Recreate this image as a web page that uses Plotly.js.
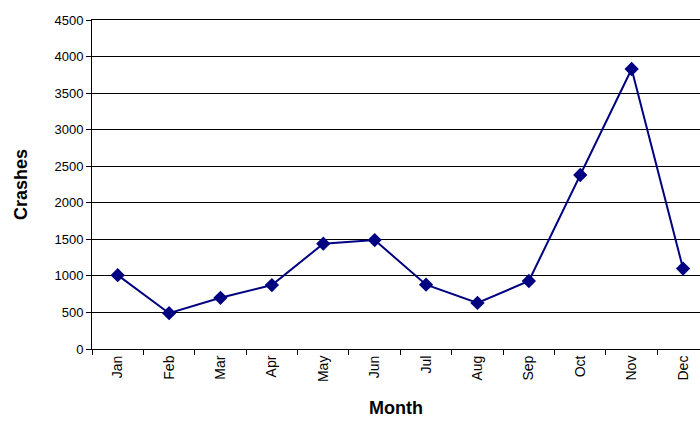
<!DOCTYPE html>
<html><head><script src="https://cdn.plot.ly/plotly-3.0.1.min.js"></script>
<style>body{margin:0}</style></head><body>
<div id="chart" style="width:700px;height:422px"></div>
<script>
var months = ['Jan','Feb','Mar','Apr','May','Jun','Jul','Aug','Sep','Oct','Nov','Dec'];
var crashes = [1010, 490, 700, 875, 1440, 1490, 880, 630, 930, 2380, 3830, 1100];

var trace = {
    x: months,
    y: crashes,
    type: 'scatter',
    mode: 'lines+markers',
    line: {color: '#000080', width: 2},
    marker: {symbol: 'diamond', size: 11, color: '#000080'},
    cliponaxis: false
};
var layout = {
    width: 700, height: 422,
    margin: {l: 92, r: 0, t: 20, b: 73},
    paper_bgcolor: 'white', plot_bgcolor: 'white',
    font: {family: 'Liberation Sans, Arial, sans-serif', size: 13, color: 'black'},
    showlegend: false,
    xaxis: {
        range: [-0.5, 11.33],
        tickangle: -90,
        tickfont: {size: 14},
        tickson: 'boundaries',
        ticks: 'outside', ticklen: 5, tickcolor: 'black',
        showline: true, linecolor: 'black', linewidth: 1, mirror: true,
        showgrid: false,
        title: {text: '<b>Month</b>', font: {size: 18}, standoff: 20}
    },
    yaxis: {
        range: [0, 4500], dtick: 500,
        ticks: 'outside', ticklen: 5, tickcolor: 'black',
        showline: true, linecolor: 'black', linewidth: 1,
        gridcolor: 'black', gridwidth: 1,
        zeroline: false,
        title: {text: '<b>Crashes</b>', font: {size: 18}, standoff: 22}
    }
};
Plotly.newPlot('chart', [trace], layout, {displayModeBar: false, staticPlot: true});
</script>
</body></html>
